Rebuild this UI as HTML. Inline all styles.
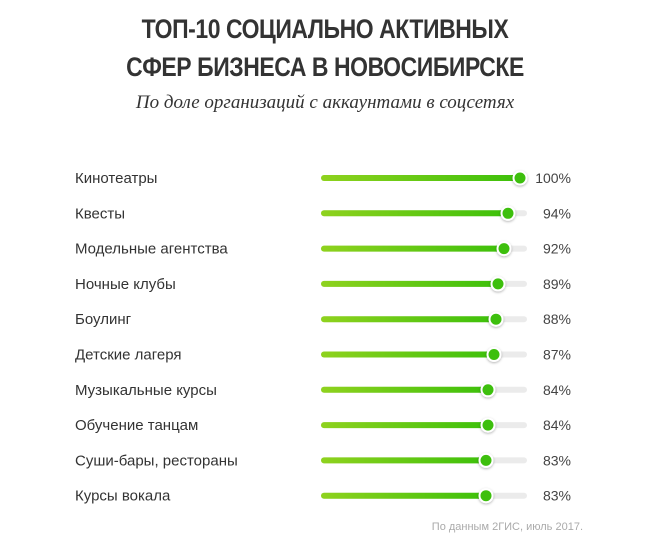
<!DOCTYPE html>
<html><head><meta charset="utf-8"><style>
body{margin:0;background:#fff;width:650px;height:556px;overflow:hidden;font-family:"Liberation Sans",sans-serif;position:relative}
.t{position:absolute;left:0;width:650px;text-align:center;color:#333;font-weight:bold;font-size:27px;letter-spacing:-0.5px;transform:scaleX(0.85);transform-origin:325px 0}
.sub{position:absolute;left:0;width:650px;text-align:center;top:92px;font-family:"Liberation Serif",serif;font-style:italic;font-size:19px;color:#333}
.foot{position:absolute;right:67px;top:521px;font-size:11px;color:#aaa}
</style></head><body>
<div class="t" style="top:14px">ТОП-10 СОЦИАЛЬНО АКТИВНЫХ</div>
<div class="t" style="top:52px">СФЕР БИЗНЕСА В НОВОСИБИРСКЕ</div>
<div class="sub">По доле организаций с аккаунтами в соцсетях</div>
<svg id="chart" width="650" height="556" style="position:absolute;left:0;top:0">
<defs><linearGradient id="g" x1="0" x2="1"><stop offset="0" stop-color="#8fd21e"/><stop offset="1" stop-color="#3cc00a"/></linearGradient>
<filter id="sh" x="-50%" y="-50%" width="200%" height="200%"><feDropShadow dx="0" dy="1" stdDeviation="1.2" flood-opacity="0.3"/></filter></defs>
</svg>
<div class="foot">По данным 2ГИС, июль 2017.</div>
<script>
const categories=["Кинотеатры","Квесты","Модельные агентства","Ночные клубы","Боулинг","Детские лагеря","Музыкальные курсы","Обучение танцам","Суши-бары, рестораны","Курсы вокала"];
const values=[100,94,92,89,88,87,84,84,83,83];
const valueLabels=["100%","94%","92%","89%","88%","87%","84%","84%","83%","83%"];
const svg=document.getElementById('chart');const NS="http://www.w3.org/2000/svg";
const x=v=>320+2*v;const y=i=>178+i*35.3;
function mk(t,a){const e=document.createElementNS(NS,t);for(const k in a)e.setAttribute(k,a[k]);svg.appendChild(e);return e;}
categories.forEach((c,i)=>{
 const cy=y(i);
 const l=mk('text',{x:75,y:cy+5,'font-size':15,fill:'#333','font-family':'Liberation Sans, sans-serif'});l.textContent=c;
 
 
 const tr=mk('rect',{x:321,y:cy-3,width:206,height:6,rx:3,fill:'#ebebeb'});
 
 
 const b=mk('rect',{x:321,y:cy-3,width:x(values[i])-321,height:6,rx:3,fill:'url(#g)'});
 
 
 const k=mk('circle',{cx:x(values[i]),cy:cy,r:6.5,fill:'#3cbf0a',stroke:'#fff','stroke-width':2,filter:'url(#sh)'});
 
 
 const v=mk('text',{x:571,y:cy+5,'font-size':14,fill:'#444','text-anchor':'end','font-family':'Liberation Sans, sans-serif'});v.textContent=valueLabels[i];
 
 
});
</script>
</body></html>
